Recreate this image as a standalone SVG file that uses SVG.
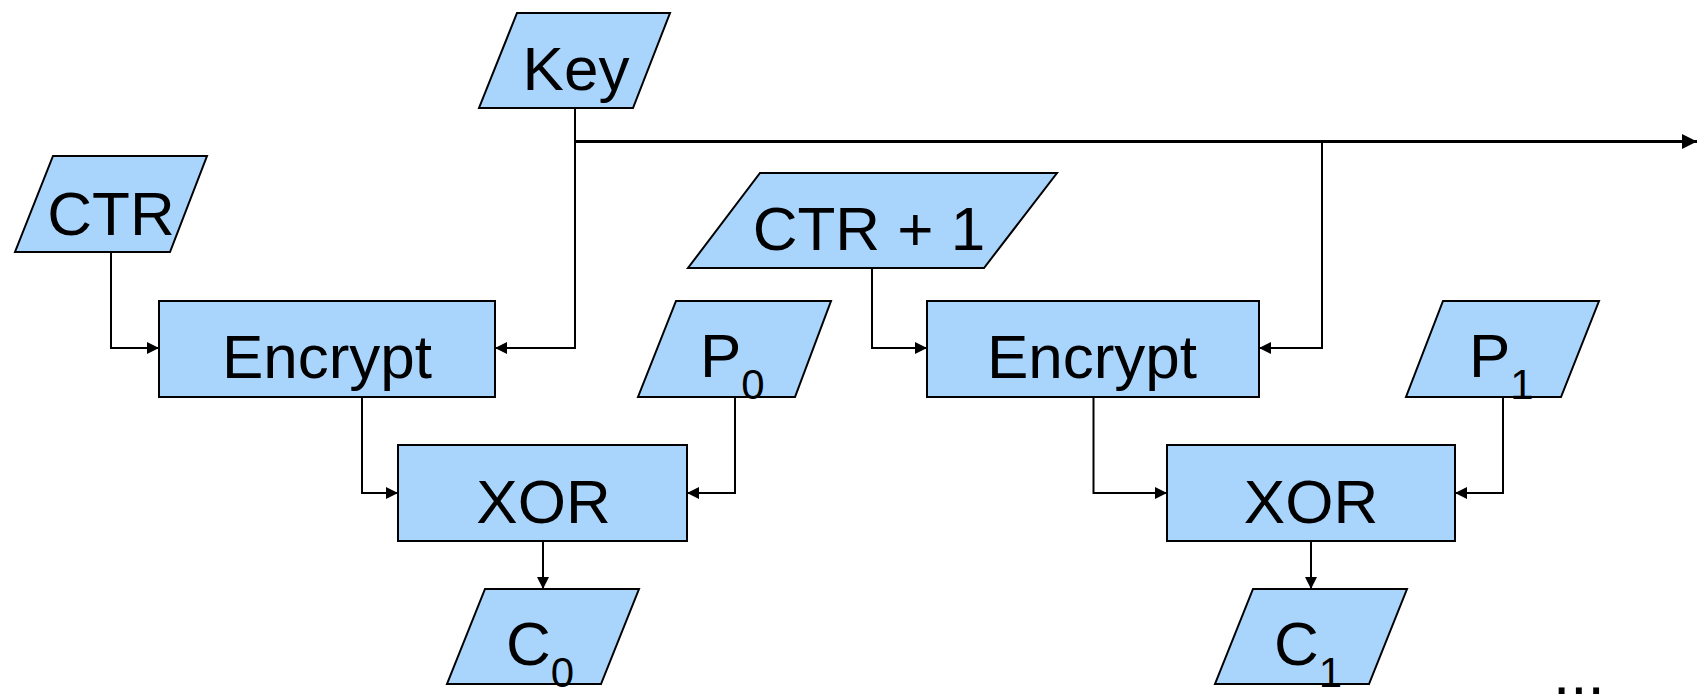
<svg xmlns="http://www.w3.org/2000/svg" width="1699" height="695" viewBox="0 0 1699 695">
  <style>
    .shape { fill: #a9d5fd; stroke: #000; stroke-width: 2; stroke-linejoin: miter; }
    .label { font-family: "Liberation Sans", Arial, sans-serif; font-size: 62px; fill: #000; }
    .mid { text-anchor: middle; }
    .sub { font-size: 42px; }
    .wire { fill: none; stroke: #000; stroke-width: 2; }
    .bus { fill: none; stroke: #000; stroke-width: 3; }
  </style>
  <defs>
    <marker id="arrow" markerUnits="userSpaceOnUse" markerWidth="12" markerHeight="12" refX="12" refY="6" orient="auto">
      <path d="M0,0 L12,6 L0,12 z" fill="#000"/>
    </marker>
    <marker id="arrow-big" markerUnits="userSpaceOnUse" markerWidth="15" markerHeight="15" refX="15" refY="7.5" orient="auto">
      <path d="M0,0 L15,7.5 L0,15 z" fill="#000"/>
    </marker>
  </defs>

  <!-- connectors -->
  <g id="connectors">
    <path class="bus" d="M575,141.5 H1697" marker-end="url(#arrow-big)"/>
    <path class="wire" d="M575,108 V348 H495" marker-end="url(#arrow)"/>
    <path class="wire" d="M1322,141.5 V348 H1259" marker-end="url(#arrow)"/>
    <path class="wire" d="M111,252 V348 H159" marker-end="url(#arrow)"/>
    <path class="wire" d="M872,268 V348 H927" marker-end="url(#arrow)"/>
    <path class="wire" d="M362,397 V493 H398" marker-end="url(#arrow)"/>
    <path class="wire" d="M735,397 V493 H687" marker-end="url(#arrow)"/>
    <path class="wire" d="M543,541 V589" marker-end="url(#arrow)"/>
    <path class="wire" d="M1093.5,397 V493 H1167" marker-end="url(#arrow)"/>
    <path class="wire" d="M1503,397 V493 H1455" marker-end="url(#arrow)"/>
    <path class="wire" d="M1311,541 V589" marker-end="url(#arrow)"/>
  </g>

  <g id="key">
    <polygon class="shape" points="517,13 670,13 633,108 479,108"/>
    <text class="label mid" x="576" y="90">Key</text>
  </g>

  <g id="ctr">
    <polygon class="shape" points="53,156 207,156 170,252 15,252"/>
    <text class="label mid" x="111" y="235">CTR</text>
  </g>

  <g id="ctr-plus-1">
    <polygon class="shape" points="760,173 1057,173 984,268 688,268"/>
    <text class="label mid" x="869" y="250">CTR + 1</text>
  </g>

  <g id="encrypt-0">
    <rect class="shape" x="159" y="301" width="336" height="96"/>
    <text class="label mid" x="327" y="378">Encrypt</text>
  </g>

  <g id="encrypt-1">
    <rect class="shape" x="927" y="301" width="332" height="96"/>
    <text class="label mid" x="1092" y="378">Encrypt</text>
  </g>

  <g id="p0">
    <polygon class="shape" points="676,301 831,301 795,397 638,397"/>
    <text class="label" x="700" y="377">P<tspan class="sub" dy="22">0</tspan></text>
  </g>

  <g id="p1">
    <polygon class="shape" points="1443,301 1599,301 1561,397 1406,397"/>
    <text class="label" x="1469" y="377">P<tspan class="sub" dy="22">1</tspan></text>
  </g>

  <g id="xor-0">
    <rect class="shape" x="398" y="445" width="289" height="96"/>
    <text class="label mid" x="543.5" y="523">XOR</text>
  </g>

  <g id="xor-1">
    <rect class="shape" x="1167" y="445" width="288" height="96"/>
    <text class="label mid" x="1311" y="523">XOR</text>
  </g>

  <g id="c0">
    <polygon class="shape" points="485,589 639,589 601,684 447,684"/>
    <text class="label" x="506" y="665">C<tspan class="sub" dy="22">0</tspan></text>
  </g>

  <g id="c1">
    <polygon class="shape" points="1253,589 1407,589 1369,684 1215,684"/>
    <text class="label" x="1274" y="665">C<tspan class="sub" dy="22">1</tspan></text>
  </g>

  <g id="continuation">
    <text class="label" x="1553" y="694" font-size="64">...</text>
  </g>
</svg>
